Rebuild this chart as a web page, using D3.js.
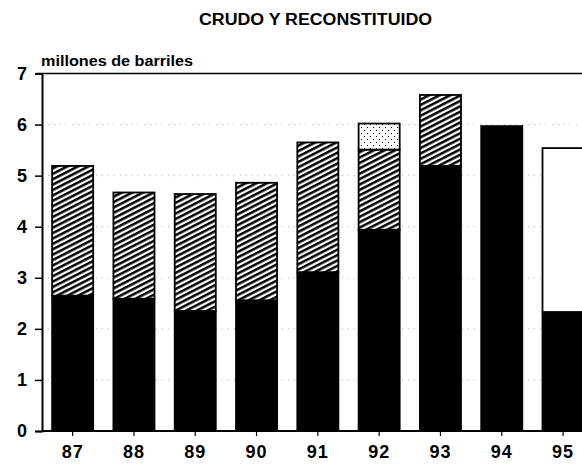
<!DOCTYPE html>
<html>
<head>
<meta charset="utf-8">
<script src="https://cdn.jsdelivr.net/npm/d3@7"></script>
<style>
  body { margin: 0; background: #fff; }
  svg { display: block; font-family: "Liberation Sans", Arial, sans-serif; font-weight: bold; }
</style>
</head>
<body>
<div id="chart"></div>
<script>
const years = ['87', '88', '89', '90', '91', '92', '93', '94', '95'];
const crudo = [2.65, 2.59, 2.35, 2.56, 3.11, 3.94, 5.19, 5.97, 2.33];
const reconstituido = [2.54, 2.08, 2.29, 2.30, 2.54, 1.57, 1.39, 0, 0];
const otros = [0, 0, 0, 0, 0, 0.51, 0, 0, 0];
const sinDato = [0, 0, 0, 0, 0, 0, 0, 0, 3.21];
const yTicks = [0, 1, 2, 3, 4, 5, 6, 7];

const width = 582, height = 464;
const margin = { top: 73.5, left: 42, bottom: 33 };

const rows = years.map((y, i) => ({
  year: y,
  crudo: crudo[i],
  reconstituido: reconstituido[i],
  otros: otros[i],
  sinDato: sinDato[i]
}));

const keys = ['crudo', 'reconstituido', 'otros', 'sinDato'];
const series = d3.stack().keys(keys)(rows);

const svg = d3.select('#chart').append('svg')
  .attr('width', width)
  .attr('height', height);

const defs = svg.append('defs');

// diagonal hatch
const hatch = defs.append('pattern')
  .attr('id', 'hatch')
  .attr('patternUnits', 'userSpaceOnUse')
  .attr('width', 8)
  .attr('height', 4.8)
  .attr('patternTransform', 'rotate(-27)');
hatch.append('rect').attr('width', 8).attr('height', 4.8).attr('fill', '#fff');
hatch.append('rect').attr('y', 0).attr('width', 8).attr('height', 2.5).attr('fill', '#000');

// sparse dots
const dots = defs.append('pattern')
  .attr('id', 'dots')
  .attr('patternUnits', 'userSpaceOnUse')
  .attr('width', 6)
  .attr('height', 6);
dots.append('rect').attr('width', 6).attr('height', 6).attr('fill', '#fff');
dots.append('rect').attr('x', 1).attr('y', 1).attr('width', 1).attr('height', 1).attr('fill', '#000');
dots.append('rect').attr('x', 4).attr('y', 4).attr('width', 1).attr('height', 1).attr('fill', '#000');

const fills = {
  crudo: '#000',
  reconstituido: 'url(#hatch)',
  otros: 'url(#dots)',
  sinDato: '#fff'
};

const y = d3.scaleLinear()
  .domain([0, 7])
  .range([height - margin.bottom, margin.top]);

const x = d3.scaleBand()
  .domain(years)
  .range([margin.left, margin.left + 9 * 61.3])
  .paddingInner(0.33)
  .paddingOuter(0.165);

// title
svg.append('text')
  .attr('x', 199)
  .attr('y', 25)
  .attr('font-size', 16)
  .attr('textLength', 233)
  .attr('lengthAdjust', 'spacingAndGlyphs')
  .text('CRUDO Y RECONSTITUIDO');

svg.append('text')
  .attr('x', 41)
  .attr('y', 66)
  .attr('font-size', 14)
  .attr('textLength', 152)
  .attr('lengthAdjust', 'spacingAndGlyphs')
  .text('millones de barriles');

// dotted grid
svg.append('g')
  .selectAll('line')
  .data(yTicks.filter(t => t > 0 && t < 7))
  .join('line')
  .attr('x1', margin.left)
  .attr('x2', width)
  .attr('y1', d => y(d))
  .attr('y2', d => y(d))
  .attr('stroke', '#777')
  .attr('stroke-width', 0.6)
  .attr('stroke-dasharray', '1,5');

// top frame line
svg.append('line')
  .attr('x1', margin.left - 6)
  .attr('x2', width)
  .attr('y1', y(7))
  .attr('y2', y(7))
  .attr('stroke', '#000')
  .attr('stroke-width', 1.6);

// bars
svg.append('g')
  .selectAll('g')
  .data(series)
  .join('g')
  .attr('fill', d => fills[d.key])
  .selectAll('rect')
  .data(d => d.filter(s => s[1] - s[0] > 0))
  .join('rect')
  .attr('x', d => x(d.data.year))
  .attr('width', x.bandwidth())
  .attr('y', d => y(d[1]))
  .attr('height', d => y(d[0]) - y(d[1]))
  .attr('stroke', '#000')
  .attr('stroke-width', 1.8);

// y axis
const yAxis = svg.append('g')
  .attr('transform', `translate(${margin.left},0)`)
  .call(d3.axisLeft(y).tickValues(yTicks).tickFormat(d3.format('d')).tickSize(7).tickPadding(8));
yAxis.select('.domain').attr('stroke-width', 2);
yAxis.selectAll('.tick line').attr('stroke-width', 1.5);
yAxis.selectAll('text').attr('font-size', 18).attr('font-family', '"Liberation Sans", Arial, sans-serif').attr('font-weight', 'bold');

// x axis
const xAxis = svg.append('g')
  .attr('transform', `translate(0,${y(0)})`)
  .call(d3.axisBottom(x).tickSize(5).tickPadding(9).tickSizeOuter(0));
xAxis.select('.domain').attr('stroke-width', 2).attr('d', `M${margin.left},0H${width}`);
xAxis.selectAll('.tick line').attr('stroke-width', 1.2);
xAxis.selectAll('text').attr('font-size', 18).attr('letter-spacing', 1).attr('font-family', '"Liberation Sans", Arial, sans-serif').attr('font-weight', 'bold');
</script>
</body>
</html>
